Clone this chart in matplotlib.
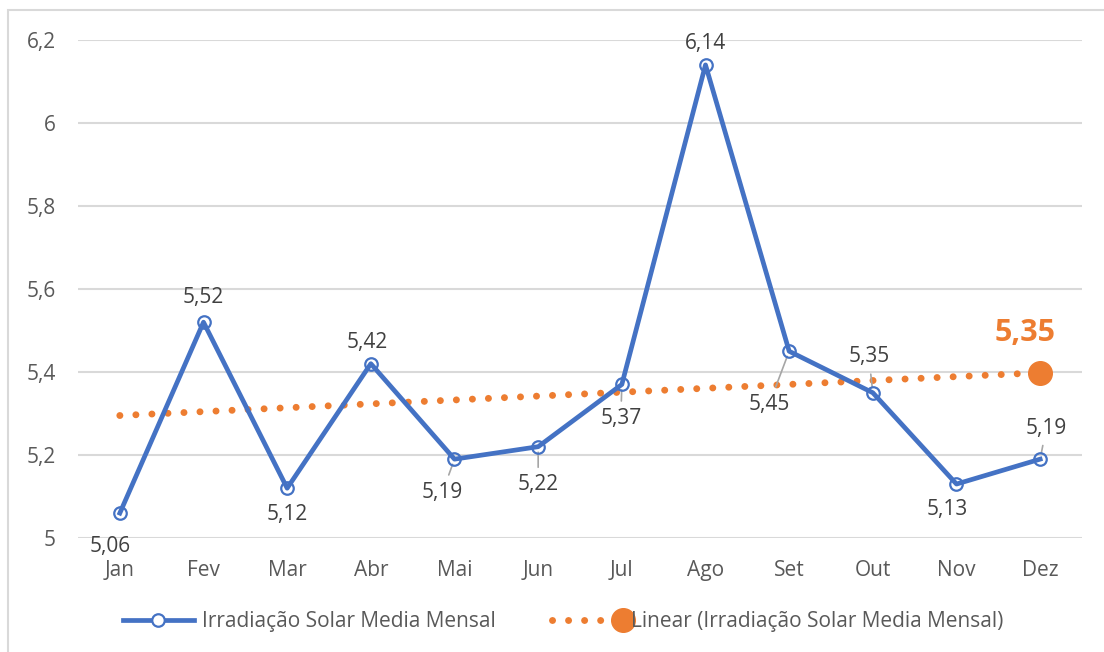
from matplotlib import pyplot as plt
from matplotlib.lines import Line2D
from matplotlib.legend_handler import HandlerLine2D
from matplotlib.patches import Rectangle
import numpy as np

# data
meses = ['Jan', 'Fev', 'Mar', 'Abr', 'Mai', 'Jun', 'Jul', 'Ago', 'Set', 'Out', 'Nov', 'Dez']
irradiacao = [5.06, 5.52, 5.12, 5.42, 5.19, 5.22, 5.37, 6.14, 5.45, 5.35, 5.13, 5.19]
destaque = '5,35'

# label offsets (pixels) and whether a leader line is drawn
offsets = [(-10, -33), (0, 25), (0, -26), (-4, 21), (-12, -33), (0, -38),
           (-1, -34), (0, 21), (-20, -53), (-4, 36), (-9, -25), (6, 31)]
leader = [False, False, False, False, True, True, True, False, True, True, False, True]

blue = '#4472C4'
orange = '#ED7D31'
grey = '#595959'
dark = '#404040'

plt.rcParams['font.family'] = ['Open Sans', 'DejaVu Sans']

fig = plt.figure(figsize=(11.04, 6.52), dpi=100)
fig.patches.append(Rectangle((8 / 1104, -0.1), 1.2, 1 - 10 / 652 + 0.1, transform=fig.transFigure,
                             fill=False, edgecolor='#D9D9D9', linewidth=1.5))
ax = fig.add_axes([78 / 1104, 1 - 538 / 652, (1082 - 78) / 1104, (538 - 40) / 652])

x = np.arange(len(meses))
y = np.array(irradiacao)

# linear trendline
a, b = np.polyfit(x, y, 1)
trend = a * x + b

dots = (0, (0.01, 2.3))
ax.plot(x, trend, color=orange, linewidth=5, linestyle=dots,
        dash_capstyle='round', zorder=2)
ax.plot(x[-1:], trend[-1:], 'o', color=orange, markersize=17, zorder=3)
ax.plot(x, y, color=blue, linewidth=3.4, marker='o', markersize=9,
        markerfacecolor='none', markeredgecolor=blue, markeredgewidth=1.6, zorder=4)

for i in range(len(x)):
    lab = '{:.2f}'.format(irradiacao[i]).replace('.', ',')
    dx, dy = offsets[i]
    props = None
    if leader[i]:
        props = dict(arrowstyle='-', color='#A6A6A6', lw=1.2, shrinkA=3, shrinkB=4)
    ax.annotate(lab, (x[i], y[i]), xytext=(dx, dy), textcoords='offset pixels',
                ha='center', va='center', fontsize=15, color=dark, arrowprops=props)

ax.annotate(destaque, (x[-1], trend[-1]), xytext=(-15, 40), textcoords='offset pixels',
            ha='center', va='center', fontsize=22, fontweight='bold', color=orange)

ax.set_xlim(-0.5, 11.5)
ax.set_ylim(5, 6.2)
ax.set_yticks([5, 5.2, 5.4, 5.6, 5.8, 6, 6.2])
ax.set_yticklabels(['5', '5,2', '5,4', '5,6', '5,8', '6', '6,2'])
ax.set_xticks(x)
ax.set_xticklabels(meses)
ax.tick_params(length=0, labelsize=15, labelcolor=grey)
ax.tick_params(axis='y', pad=16)
ax.tick_params(axis='x', pad=15.5)
ax.grid(axis='y', color='#D9D9D9', linewidth=1.5)
ax.set_axisbelow(True)
for s in ax.spines.values():
    s.set_visible(False)


class EndMarker(HandlerLine2D):
    # dotted line with the marker sitting at its right end
    def create_artists(self, legend, orig_handle, xdescent, ydescent, width, height, fontsize, trans):
        y0 = (height - ydescent) / 2
        line = Line2D([-xdescent, -xdescent + width - 14], [y0, y0])
        self.update_prop(line, orig_handle, legend)
        line.set_marker('None')
        mk = Line2D([-xdescent + width], [y0])
        self.update_prop(mk, orig_handle, legend)
        mk.set_linestyle('None')
        line.set_transform(trans)
        mk.set_transform(trans)
        return [line, mk]


h1 = Line2D([], [], color=blue, linewidth=3.4, marker='o', markersize=9,
            markerfacecolor='white', markeredgewidth=1.6)
h2 = Line2D([], [], color=orange, linewidth=5, linestyle=dots,
            dash_capstyle='round', marker='o', markersize=17)
fig.legend([h1, h2], ['Irradiação Solar Media Mensal', 'Linear (Irradiação Solar Media Mensal)'],
           loc='center', bbox_to_anchor=(0.51, 1 - 622 / 652), ncol=2, frameon=False,
           fontsize=15, labelcolor=grey, handlelength=3.4, handletextpad=0.4, columnspacing=2.7,
           handler_map={h2: EndMarker()})

plt.savefig('out.png', dpi=100)
